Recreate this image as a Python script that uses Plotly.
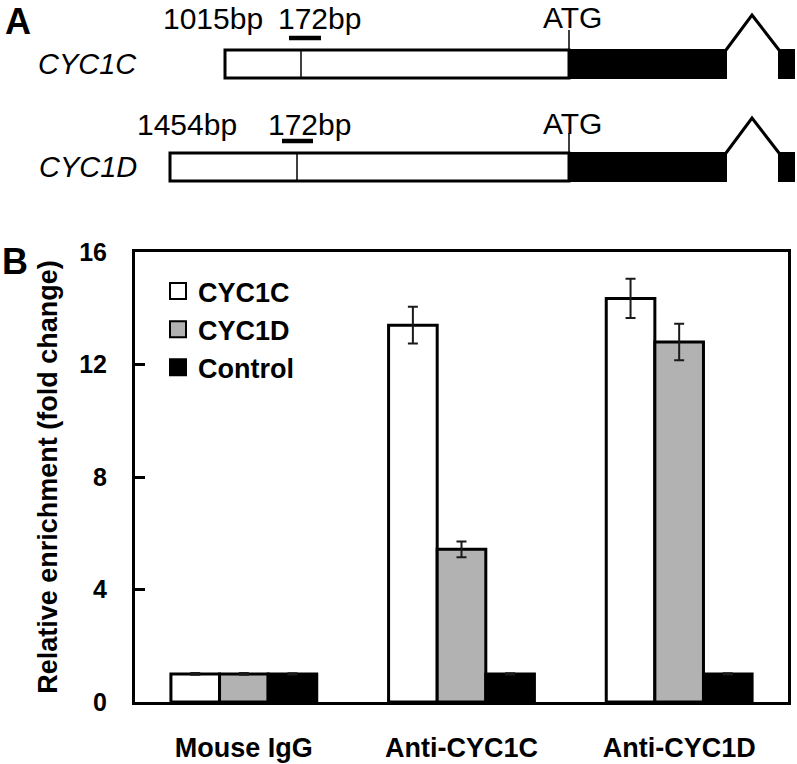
import plotly.graph_objects as go

# ---------------- data ----------------
categories = ["Mouse IgG", "Anti-CYC1C", "Anti-CYC1D"]
series_names = ["CYC1C", "CYC1D", "Control"]
cyc1c_values = [1.0, 13.4, 14.35]
cyc1c_errors = [0.03, 0.65, 0.7]
cyc1d_values = [1.0, 5.43, 12.8]
cyc1d_errors = [0.03, 0.28, 0.65]
control_values = [1.0, 1.0, 1.0]
control_errors = [0.02, 0.02, 0.02]
y_ticks = [0, 4, 8, 12, 16]

gene_names = ["CYC1C", "CYC1D"]
promoter_length_labels = ["1015bp", "1454bp"]
probe_label = "172bp"
atg_label = "ATG"

# ---------------- schematic geometry (panel A, not to scale, schematic units) ----------------
row_top = [50, 153]
box_h = 28
promoter_start = [225, 170]
probe_site = [301, 297]
probe_bar = [(289, 321), (282, 313)]
atg_pos = 569
exon1_end = 726
intron_peak = 752
exon2_start = 779
exon2_end = 794
label_y = [18, 124]
len_label_x = [213, 187]
probe_label_x = [319, 309.5]
atg_label_x = 572
gene_label_x = 87.5

FONT = "Liberation Sans, Arial, sans-serif"
W, H = 797, 764


def px_x(x):   # pixel -> paper fraction
    return x / W


def px_y(y):
    return 1 - y / H


fig = go.Figure()

colors = ["white", "#b2b2b2", "black"]
values = [cyc1c_values, cyc1d_values, control_values]
errors = [cyc1c_errors, cyc1d_errors, control_errors]

for name, col, v, e in zip(series_names, colors, values, errors):
    fig.add_trace(go.Bar(
        x=categories, y=v, name=name, showlegend=False,
        marker=dict(color=col, line=dict(color="black", width=3)),
        error_y=dict(type="data", array=e, visible=True, color="#1a1a1a",
                     thickness=2, width=5),
        xaxis="x", yaxis="y",
    ))
    # legend proxy
    fig.add_trace(go.Scatter(
        x=[None], y=[None], mode="markers", name=name,
        marker=dict(symbol="square", size=16, color=col,
                    line=dict(color="black", width=2)),
        xaxis="x", yaxis="y",
    ))

# ---------------- panel A shapes ----------------
shapes = []
for i in range(2):
    t = row_top[i]
    b = t + box_h
    shapes.append(dict(type="rect", xref="x2", yref="y2", x0=promoter_start[i], x1=atg_pos,
                       y0=t, y1=b, line=dict(color="black", width=3), fillcolor="white"))
    shapes.append(dict(type="line", xref="x2", yref="y2", x0=probe_site[i], x1=probe_site[i],
                       y0=t, y1=b, line=dict(color="black", width=1.5)))
    shapes.append(dict(type="rect", xref="x2", yref="y2", x0=atg_pos, x1=exon1_end,
                       y0=t, y1=b, line=dict(color="black", width=2), fillcolor="black"))
    shapes.append(dict(type="rect", xref="x2", yref="y2", x0=exon2_start, x1=exon2_end,
                       y0=t, y1=b, line=dict(color="black", width=2), fillcolor="black"))
    shapes.append(dict(type="line", xref="x2", yref="y2", x0=atg_pos, x1=atg_pos,
                       y0=t - 20, y1=t, line=dict(color="black", width=1.5)))
    shapes.append(dict(type="line", xref="x2", yref="y2", x0=probe_bar[i][0], x1=probe_bar[i][1],
                       y0=t - 12, y1=t - 12, line=dict(color="black", width=4.5)))
    shapes.append(dict(type="path", xref="x2", yref="y2",
                       path=f"M {exon1_end},{t} L {intron_peak},{t-35} L {exon2_start},{t}",
                       line=dict(color="black", width=3)))

annotations = []
for i in range(2):
    t = row_top[i]
    annotations.append(dict(xref="x2", yref="y2", x=gene_label_x, y=t + 14,
                            xanchor="center", yanchor="middle",
                            text=f"<i>{gene_names[i]}</i>", showarrow=False,
                            font=dict(family=FONT, size=29, color="black")))
    annotations.append(dict(xref="x2", yref="y2", x=len_label_x[i], y=label_y[i],
                            xanchor="center", yanchor="middle",
                            text=promoter_length_labels[i], showarrow=False,
                            font=dict(family=FONT, size=30, color="black")))
    annotations.append(dict(xref="x2", yref="y2", x=probe_label_x[i], y=label_y[i],
                            xanchor="center", yanchor="middle",
                            text=probe_label, showarrow=False,
                            font=dict(family=FONT, size=30, color="black")))
    annotations.append(dict(xref="x2", yref="y2", x=atg_label_x, y=label_y[i] - 1,
                            xanchor="center", yanchor="middle",
                            text=atg_label, showarrow=False,
                            font=dict(family=FONT, size=30, color="black")))

annotations.append(dict(xref="paper", yref="paper", x=px_x(18), y=px_y(21), text="<b>A</b>",
                        xanchor="center", yanchor="middle",
                        showarrow=False, font=dict(family=FONT, size=36, color="black")))
annotations.append(dict(xref="paper", yref="paper", x=px_x(15), y=px_y(261), text="<b>B</b>",
                        xanchor="center", yanchor="middle",
                        showarrow=False, font=dict(family=FONT, size=36, color="black")))

fig.update_layout(
    template="none",
    width=W, height=H,
    margin=dict(l=0, r=0, t=0, b=0, pad=0),
    paper_bgcolor="white", plot_bgcolor="white",
    barmode="group", bargap=0.33, bargroupgap=0,
    font=dict(family=FONT, color="black"),
    shapes=shapes, annotations=annotations,
    legend=dict(x=px_x(158), y=px_y(267), xanchor="left", yanchor="top",
                bgcolor="rgba(0,0,0,0)",
                font=dict(family=FONT, size=27, weight="bold", color="black"),
                tracegroupgap=0, itemsizing="trace"),
    xaxis=dict(domain=[px_x(135), px_x(788)], type="category", range=[-0.5, 2.5],
               showline=True, linewidth=3, linecolor="black", mirror=True,
               ticks="", showgrid=False, zeroline=False, automargin=False,
               tickfont=dict(family=FONT, size=27, weight="bold", color="black"),
               ticklabelstandoff=20, anchor="y"),
    yaxis=dict(domain=[px_y(702), px_y(252)], range=[0, 16], tickvals=y_ticks,
               showline=True, linewidth=3, linecolor="black", mirror=True,
               ticks="inside", ticklen=10, tickwidth=3, tickcolor="black",
               showgrid=False, zeroline=False, automargin=False,
               tickfont=dict(family=FONT, size=25, weight="bold", color="black"),
               ticklabelstandoff=20, anchor="x",
               title=dict(text="Relative enrichment (fold change)", standoff=14,
                          font=dict(family=FONT, size=27, weight="bold", color="black"))),
    xaxis2=dict(domain=[0, 1], range=[0, W], visible=False, anchor="y2", fixedrange=True,
                automargin=False),
    yaxis2=dict(domain=[px_y(200), 1], range=[200, 0], visible=False, anchor="x2",
                fixedrange=True, automargin=False),
)

# remove the page's default body margin so the figure fills the window exactly
fig.write_html("out.html", config={"displayModeBar": False},
               post_script="document.body.style.margin='0px';")
